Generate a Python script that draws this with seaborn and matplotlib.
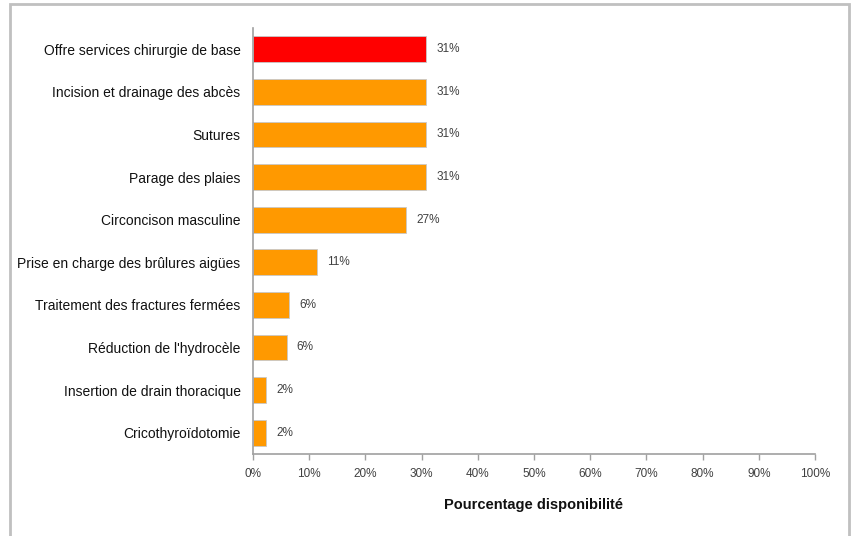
import matplotlib
matplotlib.use("Agg")
import matplotlib.pyplot as plt
from matplotlib import font_manager
import matplotlib.patches as mpatches
import seaborn as sns
import pandas as pd

categories = [
    "Offre services chirurgie de base",
    "Incision et drainage des abcès",
    "Sutures",
    "Parage des plaies",
    "Circoncison masculine",
    "Prise en charge des brûlures aigües",
    "Traitement des fractures fermées",
    "Réduction de l'hydrocèle",
    "Insertion de drain thoracique",
    "Cricothyroïdotomie",
]
values = [30.8, 30.8, 30.8, 30.8, 27.2, 11.4, 6.4, 6.0, 2.4, 2.4]
bar_colors = ["#ff0000"] + ["#ff9900"] * 9
x_ticks = [0, 10, 20, 30, 40, 50, 60, 70, 80, 90, 100]
x_label = "Pourcentage disponibilité"

sns.set_theme(style="white")
names = {f.name for f in font_manager.fontManager.ttflist}
fam = "Liberation Sans Narrow" if "Liberation Sans Narrow" in names else "Liberation Sans"
plt.rcParams["font.family"] = [fam, "DejaVu Sans"]

df = pd.DataFrame({"cat": categories, "val": values})

fig = plt.figure(figsize=(8.56, 5.36), dpi=100)
ax = fig.add_axes([253 / 856, 1 - 454 / 536, (815 - 253) / 856, (454 - 28) / 536])

sns.barplot(data=df, y="cat", x="val", hue="cat", palette=bar_colors,
            saturation=1, legend=False, orient="h", width=0.61, ax=ax,
            edgecolor="#c8c8c8", linewidth=0.6)

for i, v in enumerate(values):
    ax.text(v + 1.8, i, f"{round(v)}%", va="center", ha="left",
            fontsize=8.5, color="#404040")

ax.set_xlim(0, 100)
ax.set_ylim(9.5, -0.5)
ax.set_xticks(x_ticks)
ax.set_xticklabels([f"{t}%" for t in x_ticks], fontsize=8.5, color="#404040")
ax.tick_params(axis="x", direction="out", length=4, width=1, color="#a0a0a0",
               bottom=True, pad=6)
ax.tick_params(axis="y", length=0, pad=9, labelsize=10, labelcolor="#111111")
ax.set_ylabel("")
ax.set_xlabel(x_label, fontsize=10.5, fontweight="bold", color="#111111", labelpad=13)

for s in ["top", "right"]:
    ax.spines[s].set_visible(False)
for s in ["left", "bottom"]:
    ax.spines[s].set_color("#a0a0a0")
    ax.spines[s].set_linewidth(1.2)

frame = mpatches.Rectangle((10 / 856, -0.05), (849 - 10) / 856, 1 - 4 / 536 + 0.05,
                           transform=fig.transFigure, fill=False,
                           edgecolor="#c0c0c0", linewidth=2, clip_on=False)
fig.patches.append(frame)

fig.savefig("out.png", dpi=100)
